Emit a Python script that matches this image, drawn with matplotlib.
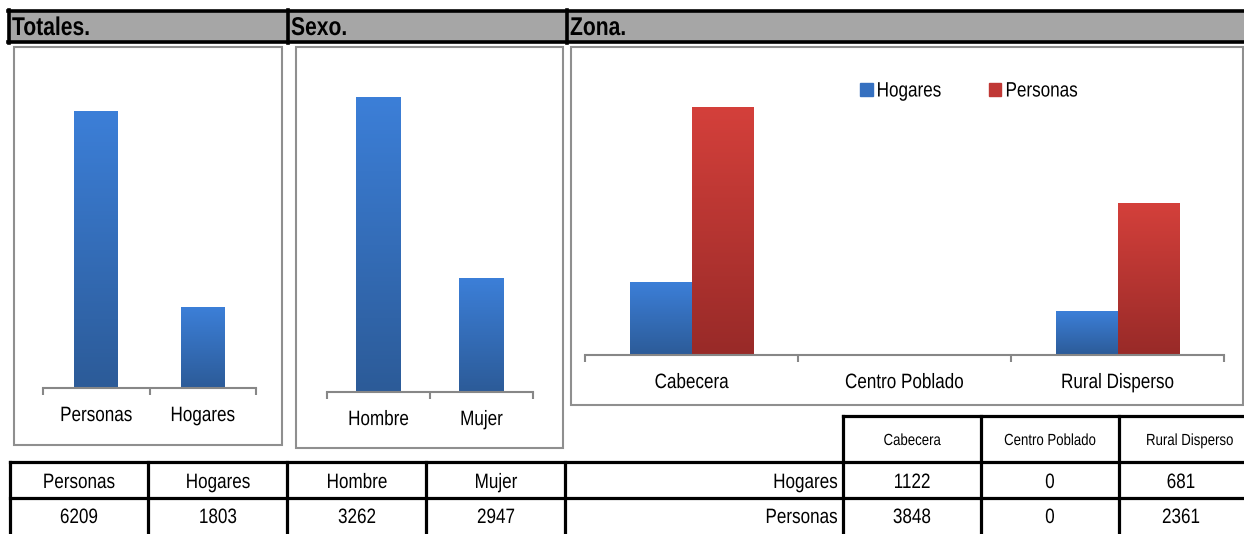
import numpy as np
import matplotlib.pyplot as plt
from matplotlib.patches import Rectangle
from matplotlib.lines import Line2D
from matplotlib.colors import LinearSegmentedColormap
from matplotlib.patheffects import AbstractPathEffect
from matplotlib.transforms import Affine2D

# --- Datos ---
totales_cat = ["Personas", "Hogares"]
totales_val = [6209, 1803]
sexo_cat = ["Hombre", "Mujer"]
sexo_val = [3262, 2947]
zona_cat = ["Cabecera", "Centro Poblado", "Rural Disperso"]
zona_hogares = [1122, 0, 681]
zona_personas = [3848, 0, 2361]

plt.rcParams['font.family'] = ['Liberation Sans', 'DejaVu Sans']

W, H = 1244, 534
fig = plt.figure(figsize=(W / 100, H / 100), dpi=100)

BLUE = LinearSegmentedColormap.from_list("b", ["#2c5b98", "#3c7fd8"])
RED = LinearSegmentedColormap.from_list("r", ["#982a28", "#d4403b"])
GREY = "#878787"
FS = 15


class Narrow(AbstractPathEffect):
    """Estrecha el texto en horizontal (imitando Arial Narrow)."""

    def __init__(self, anchor="center", sx=0.82):
        super().__init__()
        self.anchor = anchor
        self.sx = sx

    def draw_path(self, renderer, gc, tpath, affine, rgbFace=None):
        ext = tpath.get_extents(affine)
        if self.anchor == "left":
            cx = affine.transform((0, 0))[0]
        elif self.anchor == "right":
            cx = ext.x1
        else:
            cx = (ext.x0 + ext.x1) / 2
        new = affine + Affine2D().translate(-cx, 0).scale(self.sx, 1).translate(cx, 0)
        renderer.draw_path(gc, tpath, new, rgbFace)


def fx(x):
    return x / W


def fy(y):
    return 1 - y / H


def ftext(x, y, s, ha="center", va="baseline", **kw):
    return fig.text(fx(x), fy(y), s, ha=ha, va=va, path_effects=[Narrow(ha)], **kw)


def rect(x0, y0, x1, y1, **kw):
    fig.patches.append(Rectangle((fx(x0), fy(y1)), fx(x1) - fx(x0), fy(y0) - fy(y1),
                                 transform=fig.transFigure, zorder=-1, **kw))


def hline(x0, x1, y, lw=2.3, color="black"):
    fig.lines.append(Line2D([fx(x0), fx(x1)], [fy(y), fy(y)], transform=fig.transFigure,
                            lw=lw, color=color, solid_capstyle="projecting"))


def vline(x, y0, y1, lw=2.3, color="black"):
    fig.lines.append(Line2D([fx(x), fx(x)], [fy(y0), fy(y1)], transform=fig.transFigure,
                            lw=lw, color=color, solid_capstyle="projecting"))


def make_ax(x0, x1, ytop, ybot):
    ax = fig.add_axes([fx(x0), fy(ybot), (x1 - x0) / W, (ybot - ytop) / H])
    ax.set_zorder(2)
    return ax


def style_ax(ax, cats, ylim):
    n = len(cats)
    ax.set_xlim(-0.5, n - 0.5)
    ax.set_ylim(*ylim)
    for s in ["top", "left", "right"]:
        ax.spines[s].set_visible(False)
    ax.spines["bottom"].set_color(GREY)
    ax.spines["bottom"].set_linewidth(1.5)
    ax.set_yticks([])
    ax.set_xticks(range(n))
    ax.set_xticklabels(cats, fontsize=FS)
    ax.set_xticks(np.arange(-0.5, n), minor=True)
    ax.tick_params(axis="x", which="major", length=0, pad=13)
    ax.tick_params(axis="x", which="minor", length=5, width=1.5, color=GREY, direction="out")
    for lab in ax.get_xticklabels():
        lab.set_path_effects([Narrow("center")])
    ax.patch.set_alpha(0)


def gradient_bars(ax, bars, cmap, ylim):
    grad = np.linspace(0, 1, 256).reshape(-1, 1)
    for b in bars:
        x0 = b.get_x()
        x1 = x0 + b.get_width()
        y0 = max(b.get_y(), ylim[0])
        y1 = b.get_y() + b.get_height()
        if y1 <= y0:
            continue
        b.set_facecolor("none")
        b.set_edgecolor("none")
        ax.imshow(grad, cmap=cmap, origin="lower", aspect="auto",
                  extent=[x0, x1, y0, y1], zorder=2)


# --- Encabezado ---
rect(8, 10, 1244, 43, facecolor="#a6a6a6", edgecolor="none")
hline(8, 1244, 10.5, lw=2.6)
hline(8, 1244, 42, lw=2.6)
for x in [8.5, 288, 567]:
    vline(x, 10, 43, lw=2.6)
for x, t in [(12, "Totales."), (291, "Sexo."), (570, "Zona.")]:
    ftext(x, 35, t, ha="left", fontsize=18.5, fontweight="bold")

# --- Marcos de los graficos ---
rect(14, 47, 282, 445, facecolor="white", edgecolor="#8f8f8f", lw=1.5)
rect(296, 47, 563, 448, facecolor="white", edgecolor="#8f8f8f", lw=1.5)
rect(571, 47, 1243, 405, facecolor="white", edgecolor="#8f8f8f", lw=1.5)

# --- Totales ---
ylim_t = (0, 7000)
ax1 = make_ax(43, 256, 76, 388)
b1 = ax1.bar(range(len(totales_cat)), totales_val, width=0.41)
gradient_bars(ax1, b1, BLUE, ylim_t)
style_ax(ax1, totales_cat, ylim_t)

# --- Sexo ---
ylim_s = (2750, 3300)
ax2 = make_ax(327, 533, 76, 392)
b2 = ax2.bar(range(len(sexo_cat)), sexo_val, width=0.43)
gradient_bars(ax2, b2, BLUE, ylim_s)
style_ax(ax2, sexo_cat, ylim_s)

# --- Zona ---
ylim_z = (0, 4500)
ax3 = make_ax(585, 1224, 66, 355)
xz = np.arange(len(zona_cat))
w = 0.29
b3h = ax3.bar(xz - w / 2, zona_hogares, width=w)
b3p = ax3.bar(xz + w / 2, zona_personas, width=w)
gradient_bars(ax3, b3h, BLUE, ylim_z)
gradient_bars(ax3, b3p, RED, ylim_z)
style_ax(ax3, zona_cat, ylim_z)
handles = [Rectangle((0, 0), 1, 1, color="#3570c0"), Rectangle((0, 0), 1, 1, color="#c03835")]
leg = ax3.legend(handles, ["Hogares", "Personas"], loc="center left",
                 bbox_to_anchor=(fx(860), fy(91)), bbox_transform=fig.transFigure,
                 ncol=2, frameon=False, fontsize=FS, handlelength=0.6, handleheight=0.6,
                 handletextpad=0.2, columnspacing=1.6, borderpad=0, borderaxespad=0)
for t in leg.get_texts():
    t.set_path_effects([Narrow("left")])

# --- Tablas ---
hline(843, 1244, 416)
hline(10, 1244, 462)
hline(10, 1244, 498)
for x in [10, 148, 287, 426, 565]:
    vline(x, 462, 534)
for x in [843, 981, 1119]:
    vline(x, 416, 534)

left_labels = totales_cat + sexo_cat
left_values = totales_val + sexo_val
for cx, lab, val in zip([79, 218, 357, 496], left_labels, left_values):
    ftext(cx, 488, lab, fontsize=FS)
    ftext(cx, 523, str(val), fontsize=FS)

for cx, lab in zip([912, 1050, 1190], zona_cat):
    ftext(cx, 445, lab, fontsize=11.6)

ftext(838, 488, "Hogares", ha="right", fontsize=FS)
ftext(838, 523, "Personas", ha="right", fontsize=FS)
for cx, vh, vp in zip([912, 1050, 1181], zona_hogares, zona_personas):
    ftext(cx, 488, str(vh), fontsize=FS)
    ftext(cx, 523, str(vp), fontsize=FS)

fig.savefig("out.png", dpi=100)
